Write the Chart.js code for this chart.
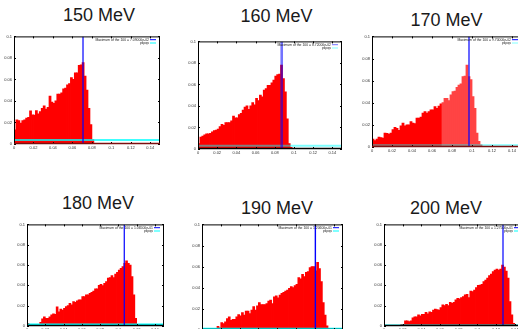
<!DOCTYPE html>
<html>
<head>
<meta charset="utf-8">
<script src="https://cdn.jsdelivr.net/npm/chart.js@4.4.1/dist/chart.umd.min.js"></script>
<style>
  html, body { margin: 0; padding: 0; background: #fff; }
  body { width: 518px; height: 329px; overflow: hidden; position: relative; }
  canvas { position: absolute; }
  .ttl { position: absolute; width: 140px; text-align: center; color: #1a1a1a;
         font: 18px "Liberation Sans", Arial, sans-serif; line-height: 18px; white-space: nowrap; }
</style>
</head>
<body>
<script>
// beam energies, one panel each
const ENERGIES = [150, 160, 170, 180, 190, 200];
// position of the maximum (blue line) and level of the flat cyan curve
const PEAKS = [0.0709, 0.0872, 0.0970, 0.1065, 0.1206, 0.1275];
const FLOORS = [0.0037, 0.0030, 0.0018, 0.0016, 0.0013, 0.0007];
const LEGEND_2 = 'pkpqs';

// histogram heights, bins of BIN_WIDTH starting at x = 0
const BIN_WIDTH = 0.002;
const HIST_150 = [0.013,0.0224,0.0218,0.0193,0.0218,0.0224,0.024,0.0248,0.0307,0.027,0.0267,0.031,0.028,0.030,0.033,0.0353,0.0325,0.034,0.0445,0.039,0.0377,0.040,0.0463,0.0463,0.0475,0.0512,0.052,0.055,0.056,0.0617,0.060,0.066,0.066,0.073,0.0736,0.0755,0.063,0.050,0.033,0.018,0.004,0.0005];
const HIST_160 = [0.005,0.011,0.012,0.013,0.014,0.014,0.0145,0.016,0.017,0.0176,0.0185,0.0207,0.0228,0.022,0.0244,0.0244,0.0244,0.026,0.0305,0.029,0.029,0.032,0.033,0.036,0.039,0.040,0.0367,0.040,0.043,0.041,0.047,0.045,0.050,0.0485,0.0546,0.056,0.059,0.059,0.0614,0.064,0.0676,0.069,0.0695,0.078,0.0654,0.053,0.028,0.005,0.0015];
const HIST_170 = [0.0072,0.0057,0.0072,0.009,0.0084,0.008,0.0126,0.0123,0.0117,0.0126,0.0156,0.0177,0.0168,0.015,0.019,0.0216,0.019,0.020,0.020,0.023,0.0216,0.021,0.026,0.026,0.027,0.0305,0.032,0.0305,0.032,0.0335,0.0335,0.0365,0.035,0.037,0.039,0.040,0.044,0.044,0.042,0.047,0.050,0.0506,0.054,0.056,0.057,0.0635,0.064,0.074,0.0635,0.061,0.0455,0.035,0.0126,0.005,0.002,0.0006];
const HIST_180 = [0.0026,0.0016,0.001,0.001,0.001,0.001,0.001,0.0036,0.0069,0.009,0.0075,0.0075,0.009,0.011,0.012,0.0115,0.0187,0.014,0.0167,0.0157,0.0174,0.019,0.020,0.0223,0.0207,0.024,0.0233,0.0246,0.0256,0.0256,0.0289,0.0289,0.0305,0.0305,0.032,0.033,0.0344,0.0364,0.0364,0.040,0.041,0.0397,0.042,0.0436,0.047,0.0475,0.0495,0.0475,0.051,0.0528,0.055,0.0567,0.0584,0.0616,0.064,0.0616,0.060,0.0485,0.0305,0.0075,0.0016,0.0003];
const HIST_190 = [0,0,0,0,0,0,0,0,0.0035,0.002,0.007,0.006,0.0076,0.0108,0.0124,0.0092,0.010,0.010,0.0124,0.0146,0.0133,0.0165,0.014,0.0178,0.0178,0.0156,0.0187,0.022,0.0187,0.0229,0.026,0.024,0.024,0.024,0.025,0.0273,0.0283,0.025,0.0314,0.0324,0.0305,0.033,0.0346,0.0356,0.0368,0.0378,0.0394,0.041,0.040,0.042,0.0432,0.0495,0.0483,0.0527,0.0505,0.0546,0.0552,0.059,0.060,0.060,0.0559,0.064,0.058,0.0457,0.026,0.014,0.0038,0.001];
const HIST_200 = [0,0,0,0,0,0,0,0,0,0.0016,0.0016,0.005,0.005,0.0043,0.005,0.008,0.009,0.009,0.011,0.010,0.0115,0.0115,0.0134,0.012,0.014,0.0134,0.0157,0.0167,0.016,0.0157,0.018,0.0207,0.020,0.0213,0.020,0.0233,0.0223,0.0233,0.0256,0.0272,0.0266,0.0279,0.0289,0.0305,0.031,0.0279,0.0344,0.0338,0.0354,0.0377,0.040,0.0403,0.041,0.0436,0.0452,0.047,0.0495,0.051,0.0534,0.055,0.056,0.055,0.056,0.060,0.058,0.054,0.047,0.024,0.011,0.0026,0.0003];
const HISTS = [HIST_150, HIST_160, HIST_170, HIST_180, HIST_190, HIST_200];

// axes
const X_MIN = 0, X_MAX = 0.15, Y_MIN = 0, Y_MAX = 0.1;
const X_TICKS = [0, 0.02, 0.04, 0.06, 0.08, 0.1, 0.12, 0.14];
const Y_TICKS = [0, 0.02, 0.04, 0.06, 0.08, 0.1];

// layout and style of each panel (plot frame in page pixels, title centre)
const PANELS = [
  { L: 14,  T: 36,  R: 160, B: 144, tx: 99,    ty: 14.5,  blue: '#0000ff', blueW: 1.2, cyan: '#00ffff', cyanW: 1.5, bottom: '#7a1010' },
  { L: 198, T: 41,  R: 342, B: 149, tx: 276.5, ty: 15.5,  blue: 'rgba(0,0,255,0.55)', blueW: 2.6, cyan: 'rgba(0,255,255,0.5)', cyanW: 2, bottom: '#000' },
  { L: 372, T: 36,  R: 522, B: 147, tx: 446.5, ty: 19.3,  blue: '#0000ff', blueW: 1.2, cyan: 'rgba(0,255,255,0.5)', cyanW: 1.7, bottom: '#7a1010', lightFrom: 35 },
  { L: 27,  T: 224, R: 164, B: 326, tx: 98,    ty: 203,   blue: '#0000ff', blueW: 1.2, cyan: '#00ffff', cyanW: 1.6, bottom: '#000' },
  { L: 202, T: 224, R: 343, B: 330, tx: 277,   ty: 207.3, blue: '#0000ff', blueW: 1.4, cyan: '#00ffff', cyanW: 1.6, bottom: '#000' },
  { L: 384, T: 224, R: 524, B: 326, tx: 446,   ty: 207.3, blue: '#0000ff', blueW: 1.2, cyan: '#00ffff', cyanW: 1.6, bottom: '#000' }
];
const YW = 12, XH = 10, PT = 4, PR = 4;

Chart.defaults.font.family = '"Liberation Sans", Arial, sans-serif';

const fmt = v => String(Math.round(v * 100) / 100);

// gnuplot look: inward ticks on all sides, frame, key in the top right corner
const gnuFrame = {
  id: 'gnuFrame',
  afterDatasetsDraw(chart, args, opts) {
    const { ctx, chartArea: a, scales: { x, y } } = chart;
    ctx.save();
    ctx.lineWidth = 1;
    ctx.strokeStyle = '#000';
    ctx.beginPath();
    X_TICKS.forEach(v => {
      const px = Math.round(x.getPixelForValue(v)) + 0.5;
      ctx.moveTo(px, a.bottom); ctx.lineTo(px, a.bottom - 2);
      ctx.moveTo(px, a.top); ctx.lineTo(px, a.top + 2);
    });
    Y_TICKS.forEach(v => {
      const py = Math.round(y.getPixelForValue(v)) + 0.5;
      ctx.moveTo(a.left, py); ctx.lineTo(a.left + 2, py);
      ctx.moveTo(a.right, py); ctx.lineTo(a.right - 2, py);
    });
    ctx.stroke();

    ctx.beginPath();
    ctx.moveTo(a.left + 0.5, a.bottom);
    ctx.lineTo(a.left + 0.5, a.top + 0.5);
    ctx.lineTo(a.right - 0.5, a.top + 0.5);
    ctx.lineTo(a.right - 0.5, a.bottom);
    ctx.stroke();
    ctx.strokeStyle = opts.bottom;
    ctx.lineWidth = 1.3;
    ctx.beginPath();
    ctx.moveTo(a.left, a.bottom - 0.5);
    ctx.lineTo(a.right, a.bottom - 0.5);
    ctx.stroke();

    // key
    ctx.font = '3.4px "Liberation Sans", Arial, sans-serif';
    ctx.textAlign = 'right';
    ctx.textBaseline = 'middle';
    [0, 1].forEach(i => {
      const ds = chart.data.datasets[i];
      const ky = a.top + 3.3 + i * 3.3;
      ctx.fillStyle = '#222';
      ctx.fillText(ds.label, a.right - 11, ky);
      ctx.strokeStyle = ds.borderColor;
      ctx.lineWidth = 1;
      ctx.beginPath();
      ctx.moveTo(a.right - 10, ky);
      ctx.lineTo(a.right - 4, ky);
      ctx.stroke();
    });
    ctx.restore();
  }
};

function keyText(v) {
  const [m, e] = v.toExponential(5).split('e');
  const n = Number(e);
  return 'Maximum of the 100 = ' + m + 'e' + (n < 0 ? '-' : '+') + String(Math.abs(n)).padStart(2, '0');
}

PANELS.forEach((p, i) => {
  const title = document.createElement('div');
  title.className = 'ttl';
  title.textContent = ENERGIES[i] + ' MeV';
  title.style.left = (p.tx - 70) + 'px';
  title.style.top = (p.ty - 8.8) + 'px';
  document.body.appendChild(title);

  const cv = document.createElement('canvas');
  const w = p.R - p.L + YW + PR;
  const h = p.B - p.T + PT + XH;
  cv.width = w; cv.height = h;
  cv.style.width = w + 'px'; cv.style.height = h + 'px';
  cv.style.left = (p.L - YW) + 'px';
  cv.style.top = (p.T - PT) + 'px';
  document.body.appendChild(cv);

  const hist = HISTS[i];
  const colors = hist.map((v, k) => (p.lightFrom !== undefined && k >= p.lightFrom) ? '#ff4444' : '#ff0000');

  new Chart(cv, {
    type: 'bar',
    data: {
      datasets: [
        { type: 'line', label: keyText(PEAKS[i]), data: [{ x: PEAKS[i], y: Y_MIN }, { x: PEAKS[i], y: Y_MAX }],
          borderColor: p.blue, borderWidth: p.blueW, pointRadius: 0, order: 0 },
        { type: 'line', label: LEGEND_2, data: [{ x: X_MIN, y: FLOORS[i] }, { x: X_MAX, y: FLOORS[i] }],
          borderColor: p.cyan, borderWidth: p.cyanW, pointRadius: 0, order: 1 },
        { type: 'bar', label: 'hist', data: hist.map((v, k) => ({ x: (k + 0.5) * BIN_WIDTH, y: v })),
          backgroundColor: colors, borderWidth: 0, barPercentage: 1, categoryPercentage: 1,
          inflateAmount: 0.4, grouped: false, order: 2 }
      ]
    },
    options: {
      responsive: false,
      animation: false,
      devicePixelRatio: 1,
      layout: { padding: { top: PT, right: PR, left: 0, bottom: 0 } },
      plugins: { legend: { display: false }, tooltip: { enabled: false }, gnuFrame: { bottom: p.bottom } },
      scales: {
        x: {
          type: 'linear', min: X_MIN, max: X_MAX, offset: false,
          grid: { display: false, drawTicks: false }, border: { display: false },
          afterBuildTicks: s => { s.ticks = X_TICKS.map(v => ({ value: v })); },
          afterFit: s => { s.height = XH; },
          ticks: { font: { size: 4 }, color: '#333', padding: 1, maxRotation: 0, autoSkip: false, callback: fmt }
        },
        y: {
          type: 'linear', min: Y_MIN, max: Y_MAX,
          grid: { display: false, drawTicks: false }, border: { display: false },
          afterBuildTicks: s => { s.ticks = Y_TICKS.map(v => ({ value: v })); },
          afterFit: s => { s.width = YW; },
          ticks: { font: { size: 4 }, color: '#333', padding: 2, autoSkip: false, callback: fmt }
        }
      }
    },
    plugins: [gnuFrame]
  });
});
</script>
</body>
</html>
